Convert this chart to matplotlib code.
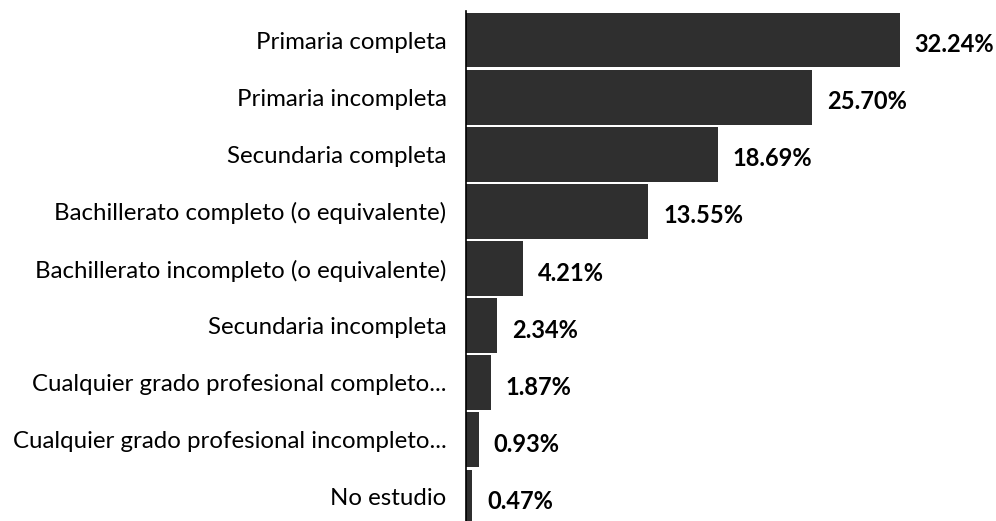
import matplotlib.pyplot as plt

# niveles educativos y porcentajes
categorias = [
    "Primaria completa",
    "Primaria incompleta",
    "Secundaria completa",
    "Bachillerato completo (o equivalente)",
    "Bachillerato incompleto (o equivalente)",
    "Secundaria incompleta",
    "Cualquier grado profesional completo...",
    "Cualquier grado profesional incompleto...",
    "No estudio",
]
porcentajes = [32.24, 25.70, 18.69, 13.55, 4.21, 2.34, 1.87, 0.93, 0.47]
etiquetas = ["32.24%", "25.70%", "18.69%", "13.55%", "4.21%", "2.34%", "1.87%", "0.93%", "0.47%"]

plt.rcParams['font.family'] = ['Lato', 'DejaVu Sans']

fig = plt.figure(figsize=(9.96, 5.21), dpi=100)
ax = fig.add_axes([466 / 996, 0, 1 - 466 / 996, 1 - 11.5 / 521])

y = list(range(len(categorias)))
ax.barh(y, porcentajes, height=0.96, color='#2f2f2f', edgecolor='none')

for yi, v, t in zip(y, porcentajes, etiquetas):
    ax.text(v + 1.1, yi + 0.08, t, va='center', ha='left',
            fontsize=17, fontweight='bold', color='black')

ax.set_yticks(y)
ax.set_yticklabels(categorias, fontsize=17.3)
ax.tick_params(axis='y', length=0, pad=14)
ax.set_xticks([])
ax.set_xlim(0, (996 - 466) / 13.46)
ax.set_ylim(8 + (521 - 497) / 57, -0.5)

for s in ['top', 'right', 'bottom']:
    ax.spines[s].set_visible(False)
ax.spines['left'].set_linewidth(1.2)

plt.savefig("out.png", dpi=100)
